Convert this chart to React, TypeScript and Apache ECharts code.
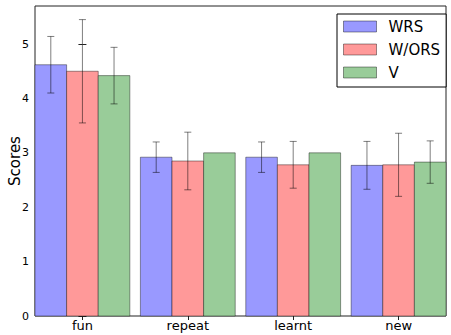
import React, { useEffect, useRef } from "react";
import * as echarts from "echarts";

const categories = ["fun", "repeat", "learnt", "new"];
const seriesNames = ["WRS", "W/ORS", "V"];
const wrsValues = [4.62, 2.92, 2.92, 2.77];
const wrsErrors = [0.52, 0.28, 0.28, 0.44];
const worsValues = [4.5, 2.85, 2.78, 2.78];
const worsErrors = [0.95, 0.53, 0.43, 0.58];
const vValues = [4.42, 3.0, 3.0, 2.83];
const vErrors = [0.52, 0, 0, 0.39];
const yTicks = [0, 1, 2, 3, 4, 5];

const COLORS = ["#9999ff", "#ff9999", "#99cc99"];
const OFFSETS = [-0.3, 0, 0.3];
const BAR_W = 0.3;
const FONT = "DejaVu Sans";
const EDGE = "rgba(0,0,0,0.4)";
const ERR = "rgba(0,0,0,0.5)";

const makeRender = (offset: number, color: string) => (params: any, api: any) => {
  const x = api.value(0) + offset;
  const v = api.value(1);
  const e = api.value(2);
  const tl = api.coord([x - BAR_W / 2, v]);
  const br = api.coord([x + BAR_W / 2, 0]);
  const children: any[] = [
    {
      type: "rect",
      shape: { x: tl[0], y: tl[1], width: br[0] - tl[0], height: br[1] - tl[1] },
      style: { fill: color, stroke: EDGE, lineWidth: 1 },
    },
  ];
  if (e > 0) {
    const top = api.coord([x, v + e]);
    const bot = api.coord([x, v - e]);
    const cap = 3.5;
    children.push(
      { type: "line", shape: { x1: top[0], y1: top[1], x2: bot[0], y2: bot[1] }, style: { stroke: ERR, lineWidth: 1 } },
      { type: "line", shape: { x1: top[0] - cap, y1: top[1], x2: top[0] + cap, y2: top[1] }, style: { stroke: ERR, lineWidth: 1 } },
      { type: "line", shape: { x1: bot[0] - cap, y1: bot[1], x2: bot[0] + cap, y2: bot[1] }, style: { stroke: ERR, lineWidth: 1 } }
    );
  }
  return { type: "group", children };
};

export default function App() {
  const ref = useRef<HTMLDivElement>(null);
  useEffect(() => {
    if (!ref.current) return;
    const chart = echarts.init(ref.current, null, { renderer: "svg" });
    const allValues = [wrsValues, worsValues, vValues];
    const allErrors = [wrsErrors, worsErrors, vErrors];
    const xTickVals = categories.map((_, i) => i);
    chart.setOption({
      animation: false,
      backgroundColor: "#fff",
      grid: {
        left: 35, right: 5, top: 6, bottom: 19,
        containLabel: false,
        outerBoundsMode: "none",
        show: true, borderColor: "#222", borderWidth: 1, backgroundColor: "transparent",
      },
      legend: {
        orient: "vertical",
        left: 337,
        top: 14,
        itemWidth: 33,
        itemHeight: 11,
        itemGap: 8,
        padding: [5, 6, 7, 6],
        borderColor: "#000",
        borderWidth: 1,
        backgroundColor: "#fff",
        textStyle: { fontFamily: FONT, fontSize: 15, color: "#000", padding: [0, 0, 0, 7] },
        data: seriesNames.map((n, i) => ({ name: n, icon: "rect", itemStyle: { color: COLORS[i], borderColor: EDGE, borderWidth: 1 } })),
      },
      xAxis: [
        {
          type: "value",
          min: -0.45,
          max: 3.45,
          position: "bottom",
          axisLine: { show: false },
          splitLine: { show: false },
          axisTick: { show: true, inside: true, length: 4, lineStyle: { color: "#222" }, customValues: xTickVals },
          axisLabel: {
            customValues: xTickVals,
            formatter: (v: number) => categories[Math.round(v)] ?? "",
            fontFamily: FONT,
            fontSize: 13,
            color: "#000",
            margin: 3,
          },
        },
        {
          type: "value",
          min: -0.45,
          max: 3.45,
          position: "top",
          axisLine: { show: false },
          splitLine: { show: false },
          axisTick: { show: true, inside: true, length: 4, lineStyle: { color: "#222" }, customValues: xTickVals },
          axisLabel: { show: false },
        },
      ],
      yAxis: [
        {
          type: "value",
          min: 0,
          max: 5.7,
          position: "left",
          name: "Scores",
          nameLocation: "middle",
          nameGap: 13,
          nameMoveOverlap: false,
          nameTextStyle: { fontFamily: FONT, fontSize: 15, color: "#000" },
          axisLine: { show: false },
          splitLine: { show: false },
          axisTick: { show: true, inside: true, length: 4, lineStyle: { color: "#222" }, customValues: yTicks },
          axisLabel: { customValues: yTicks, fontFamily: FONT, fontSize: 11, color: "#000", margin: 6 },
        },
        {
          type: "value",
          min: 0,
          max: 5.7,
          position: "right",
          axisLine: { show: false },
          splitLine: { show: false },
          axisTick: { show: true, inside: true, length: 4, lineStyle: { color: "#222" }, customValues: yTicks },
          axisLabel: { show: false },
        },
      ],
      series: seriesNames.map((name, s) => ({
        name,
        type: "custom",
        xAxisIndex: 0,
        yAxisIndex: 0,
        itemStyle: { color: COLORS[s], borderColor: EDGE },
        renderItem: makeRender(OFFSETS[s], COLORS[s]),
        encode: { x: 0, y: 1 },
        data: categories.map((_, i) => [i, allValues[s][i], allErrors[s][i]]),
      })),
    });
    return () => chart.dispose();
  }, []);
  return <div ref={ref} style={{ position: "fixed", left: 0, top: 0, width: 451, height: 335 }} />;
}
